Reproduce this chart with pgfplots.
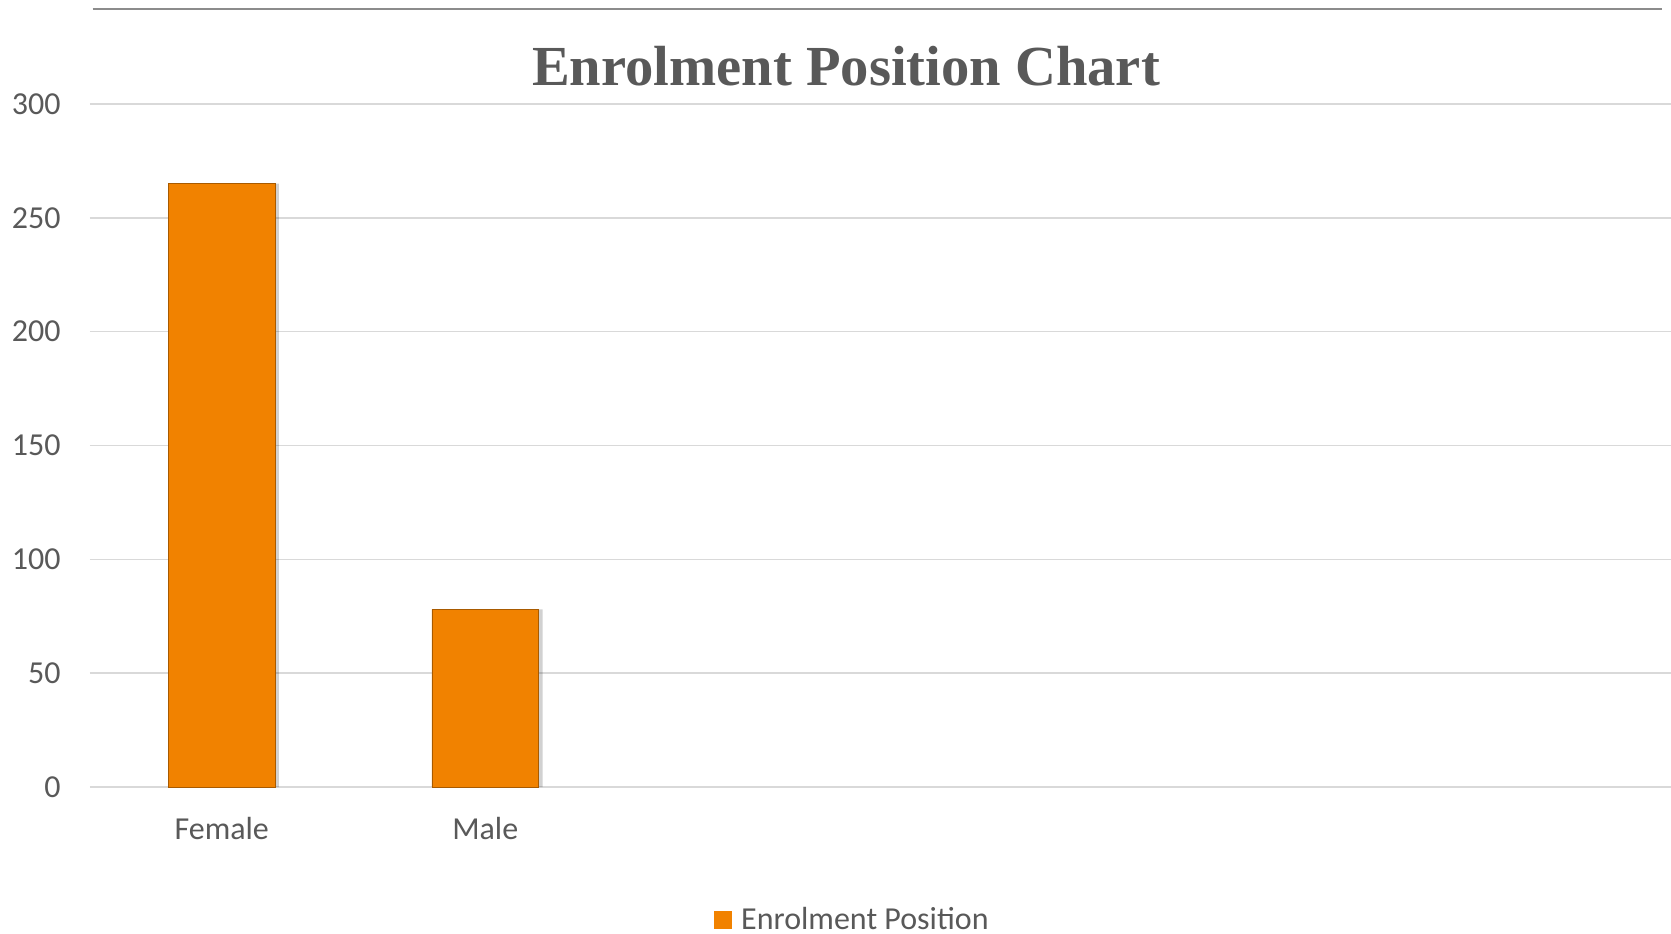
\documentclass[border=0pt]{standalone}
\usepackage{fontspec}
\setmainfont{Carlito}
\newfontfamily\titlefont{Liberation Serif}
\usepackage{pgfplots}
\pgfplotsset{compat=1.18}
\definecolor{txt}{HTML}{595959}
\definecolor{grd}{HTML}{D9D9D9}
\definecolor{bar}{HTML}{F18200}
\definecolor{baredge}{HTML}{A85A00}
\definecolor{topline}{HTML}{8C8C8C}
\begin{document}
\begin{tikzpicture}
\useasboundingbox (-45pt,-73pt) rectangle (790.5pt,393.5pt);
\begin{axis}[
  at={(0,0)}, anchor=south west,
  scale only axis,
  width=790.5pt, height=341.5pt,
  xmin=-0.5, xmax=5.5,
  ymin=0, ymax=300,
  xtick={0,1}, xticklabels={Female,Male},
  ytick={0,50,100,150,200,250,300},
  ymajorgrids,
  grid style={grd, line width=0.75pt},
  axis line style={draw=none},
  tick style={draw=none},
  /pgf/number format/assume math mode=true,
  ticklabel style={font=\fontsize{16}{19}\selectfont, text=txt},
  yticklabel style={anchor=east, inner sep=0pt, xshift=-14.5pt},
  xticklabel style={anchor=base, inner sep=0pt, yshift=-26pt},
  legend style={at={(rel axis cs:0.4813,0)}, anchor=center, yshift=-66.5pt, xshift=1.25pt,
    draw=none, fill=none, font=\fontsize{16}{19}\selectfont, text=txt,
    legend cell align=left},
  legend image code/.code={\fill[bar, draw=none] (0pt,-4.5pt) rectangle (9pt,4.5pt); \path[draw=none, fill=none] (9pt,0pt) -- (11.5pt,0pt);},
  clip=false,
]
\addplot[ybar, bar width=53.25pt, bar shift=2pt, draw=none, fill=black, fill opacity=0.18, forget plot]
  coordinates {(0,265) (1,78)};
\addplot[ybar, bar width=53.25pt, bar shift=0pt, draw=baredge, line width=0.4pt, fill=bar]
  coordinates {(0,265) (1,78)};
\addlegendentry{Enrolment Position}
\draw[topline, line width=1pt] ([yshift=47.75pt]rel axis cs:0.0017,1) -- ([yshift=47.75pt]rel axis cs:0.9943,1);
\node[font=\titlefont\bfseries\fontsize{28.3}{33}\selectfont, text=txt] at ([yshift=19pt]rel axis cs:0.4782,1) {Enrolment Position Chart};
\end{axis}
\end{tikzpicture}
\end{document}
